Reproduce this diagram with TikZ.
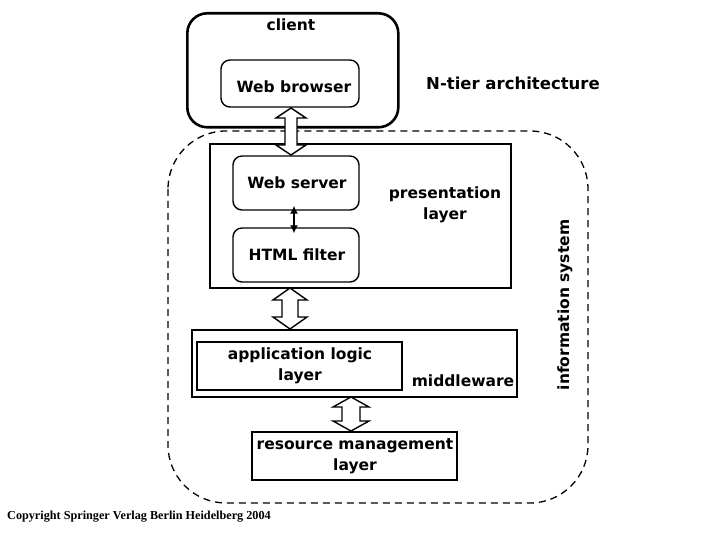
\documentclass[tikz,border=0pt]{standalone}
\usepackage{fontspec}
\setmainfont{DejaVu Sans}
\newfontfamily\copyfont{Liberation Serif}
\usetikzlibrary{calc,arrows.meta}
\tikzset{
  lbl/.style={font=\bfseries\fontsize{15.5}{21}\selectfont, align=center, inner sep=0pt},
  thickbox/.style={draw, line width=2.6pt},
  thinround/.style={draw, line width=1.4pt, rounded corners=9pt},
  thinbox/.style={draw, line width=1.6pt},
  hollow/.style={draw, line width=1.4pt, fill=white, line join=miter},
}
\newcommand\hollowarrow[7]{% x, top, bottom, H, S, L
  \draw[hollow] (#1,#2) -- (#1+#4,#2+#6) -- (#1+#5,#2+#6) -- (#1+#5,#3-#6) -- (#1+#4,#3-#6) -- (#1,#3)
   -- (#1-#4,#3-#6) -- (#1-#5,#3-#6) -- (#1-#5,#2+#6) -- (#1-#4,#2+#6) -- cycle;}
\begin{document}
\begin{tikzpicture}[x=1pt,y=-1pt]
\useasboundingbox (0,0) rectangle (720,540);
% dashed information system
\draw[dashed, line width=1.3pt, dash pattern=on 7pt off 5pt, rounded corners=58pt] (168,131) rectangle (588,503);
% client
\node[draw, line width=2.6pt, rounded corners=20pt, minimum width=211pt, minimum height=114pt, anchor=north west] (client) at (186,12) {};
\node[lbl] (clientl) at (291,25) {client};
\node[thinround, minimum width=138pt, minimum height=47pt] (browser) at (290,83.5) {};
\node[lbl] (browserl) at (294,87) {Web browser};
\node[lbl, font=\bfseries\fontsize{16.5}{19}\selectfont] (ntier) at (513,83) {N-tier architecture};
% presentation layer
\node[thickbox, minimum width=301pt, minimum height=144pt] (pres) at (360.5,216) {};
\node[thinround, minimum width=126pt, minimum height=54pt] (ws) at (296,183) {};
\node[lbl] (wsl) at (297,183) {Web server};
\node[thinround, minimum width=126pt, minimum height=54pt] (html) at (296,255) {};
\node[lbl] (htmll) at (297,255) {HTML filter};
\node[lbl] (presl) at (445,205) {presentation\\layer};
\coordinate (sa1) at ($(ws.south -| 294,0)+(0,-5)$);
\coordinate (sa2) at ($(html.north -| 294,0)+(0,6)$);
\draw[line width=1.3pt, {Latex[length=8pt,width=8pt]}-{Latex[length=8pt,width=8pt]}] (sa1) -- (sa2);
% middleware
\node[thickbox, minimum width=325pt, minimum height=67pt] (mid) at (354.5,363.5) {};
\node[thinbox, minimum width=205pt, minimum height=48pt] (app) at (299.5,366) {};
\node[lbl] (appl) at (300,366) {application logic\\layer};
\node[lbl] (midl) at (463,381) {middleware};
% resource
\node[thinbox, minimum width=205pt, minimum height=48pt] (res) at (354.5,456) {};
\node[lbl] (resl) at (355,456) {resource management\\layer};
% information system
\node[lbl] [rotate=90] (info) at (565,305) {information system};
% hollow arrows
\hollowarrow{291}{108}{155}{15}{6}{10}{}
\hollowarrow{290}{288}{329}{17}{8}{12}{}
\hollowarrow{351}{397}{431}{18}{9}{10}{}
% copyright
\node[font=\copyfont\bfseries\fontsize{12.2}{14}\selectfont, anchor=west, inner sep=0pt] (copy) at (7,517) {Copyright Springer Verlag Berlin Heidelberg 2004};
\end{tikzpicture}
\end{document}
